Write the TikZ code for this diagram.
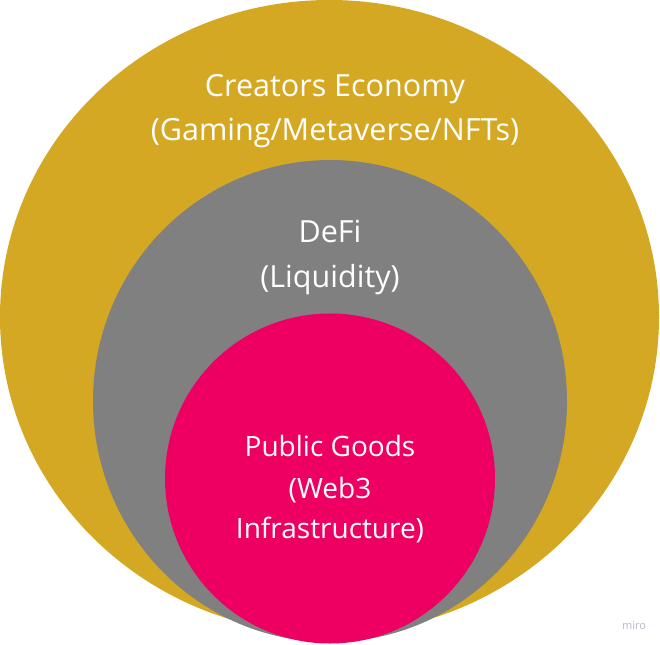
\documentclass[tikz,border=0pt]{standalone}
\usepackage{fontspec}
\setmainfont{Open Sans}
\definecolor{gold}{HTML}{D5A824}
\definecolor{midgray}{HTML}{808080}
\definecolor{hotpink}{HTML}{EE0062}
\definecolor{wmark}{HTML}{B8B8C8}
\tikzset{
  bigtext/.style={text=white, inner sep=0pt, anchor=base, font=\fontsize{30.5}{42}\selectfont},
  midtext/.style={text=white, inner sep=0pt, anchor=base, font=\fontsize{28}{38}\selectfont},
}
\begin{document}
\begin{tikzpicture}[x=1pt,y=-1pt]
\useasboundingbox (0,0) rectangle (660,644);
\fill[gold] (329.5,317) ellipse [x radius=329.5, y radius=317];
\fill[midgray] (330,401) ellipse [x radius=237, y radius=241];
\fill[hotpink] (330,478.5) circle [radius=165];
\node[bigtext] (ce1) at (335,97) {Creators Economy};
\node[bigtext] (ce2) at (335,141) {(Gaming/Metaverse/NFTs)};
\node[bigtext] (df1) at (330,242) {DeFi};
\node[bigtext] (df2) at (330,287) {(Liquidity)};
\node[midtext] (pg1) at (330,456.5) {Public Goods};
\node[midtext] (pg2) at (330,498) {(Web3};
\node[midtext] (pg3) at (330,538) {Infrastructure)};
\node[text=wmark, inner sep=0pt, anchor=base, font=\fontsize{11}{13}\selectfont] (mw) at (634,629) {miro};
\end{tikzpicture}
\end{document}
